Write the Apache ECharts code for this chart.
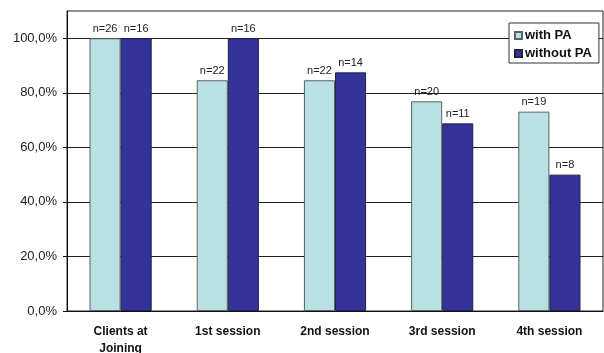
<!DOCTYPE html>
<html>
<head>
<meta charset="utf-8">
<script src="https://cdn.jsdelivr.net/npm/echarts@6/dist/echarts.min.js"></script>
<style>
  html, body { margin: 0; padding: 0; background: #fff; }
  #chart { width: 604px; height: 353px; }
</style>
</head>
<body>
<div id="chart"></div>
<script>
// Share of clients attending, by session, with and without PA
const categories = ['Clients at\nJoining', '1st session', '2nd session', '3rd session', '4th session'];
const withPA = [100, 84.6, 84.6, 76.9, 73.1];
const withoutPA = [100, 100, 87.5, 68.8, 50];
const withPACounts = [26, 22, 22, 20, 19];
const withoutPACounts = [16, 16, 14, 11, 8];
const yTicks = [0, 20, 40, 60, 80, 100];

const chart = echarts.init(document.getElementById('chart'));

const font = 'Liberation Sans, Arial, sans-serif';

function nLabel(counts) {
  return {
    show: true,
    position: 'top',
    distance: 4,
    fontFamily: font,
    fontSize: 11,
    color: '#222',
    formatter: p => 'n=' + counts[p.dataIndex]
  };
}

chart.setOption({
  animation: false,
  grid: {
    left: 67, right: 1, top: 11, bottom: 42,
    outerBoundsMode: 'none',
    containLabel: false,
    show: true, borderColor: '#222', borderWidth: 1
  },
  legend: {
    orient: 'vertical',
    left: 509, top: 23,
    backgroundColor: '#fff',
    borderColor: '#333', borderWidth: 1,
    padding: [6, 7, 3, 5],
    itemWidth: 7, itemHeight: 7, itemGap: 5,
    icon: 'rect',
    textStyle: { fontFamily: font, fontSize: 13, fontWeight: 'bold', color: '#111', padding: [0, 0, 0, -2] },
    data: ['with PA', 'without PA']
  },
  xAxis: {
    type: 'category',
    data: categories,
    axisLine: { lineStyle: { color: '#111' } },
    axisTick: { length: 5, lineStyle: { color: '#111' } },
    axisLabel: {
      fontFamily: font, fontSize: 12, fontWeight: 'bold', color: '#111',
      margin: 12, lineHeight: 17, interval: 0
    }
  },
  yAxis: {
    type: 'value',
    min: 0, max: 110, interval: 20,
    axisLine: { show: true, lineStyle: { color: '#111' } },
    axisTick: { show: true, length: 4, customValues: yTicks, lineStyle: { color: '#111' } },
    splitLine: { lineStyle: { color: '#222', width: 1 } },
    axisLabel: {
      fontFamily: font, fontSize: 13, color: '#222', margin: 10,
      customValues: yTicks,
      formatter: v => v.toFixed(1).replace('.', ',') + '%'
    }
  },
  series: [
    {
      name: 'with PA', type: 'bar', data: withPA,
      barWidth: '29%', barGap: '0%',
      itemStyle: { color: '#b9e0e3', borderColor: '#5a6366', borderWidth: 1 },
      label: nLabel(withPACounts)
    },
    {
      name: 'without PA', type: 'bar', data: withoutPA,
      barWidth: '29%',
      itemStyle: { color: '#333399', borderColor: '#222244', borderWidth: 1 },
      label: nLabel(withoutPACounts)
    }
  ]
});
</script>
</body>
</html>
